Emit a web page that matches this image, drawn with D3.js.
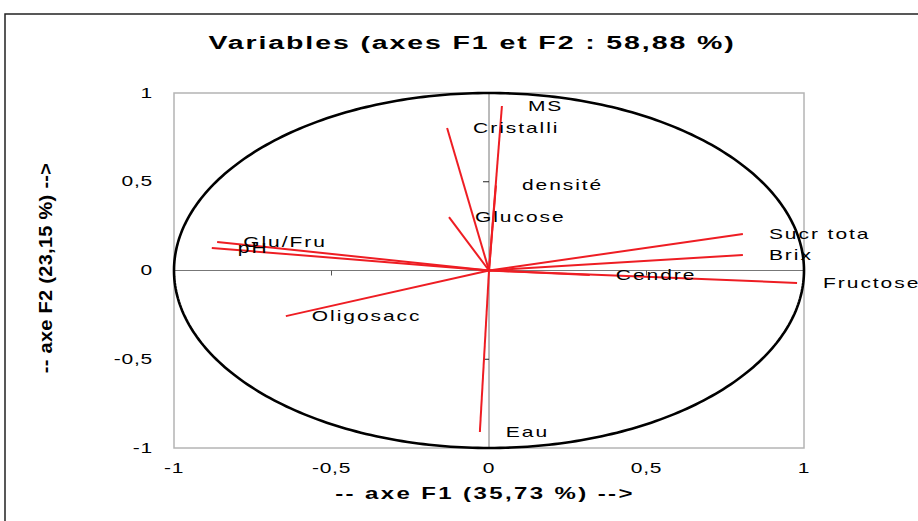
<!DOCTYPE html>
<html>
<head>
<meta charset="utf-8">
<script src="https://cdn.jsdelivr.net/npm/d3@7"></script>
<style>
  body { margin: 0; background: #fff; }
  svg { display: block; font-family: "Liberation Sans", Arial, sans-serif; }
</style>
</head>
<body>
<svg width="918" height="521"></svg>
<script>
// variables and their loadings on F1 / F2
const names = ["MS", "Cristalli", "densité", "Glucose", "Sucr tota", "Brix",
  "Fructose", "Cendre", "Glu/Fru", "pH", "Oligosacc", "Eau"];
const f1 = [0.041, -0.133, 0.022, -0.127, 0.806, 0.806, 0.978, 0.32, -0.863, -0.88, -0.645, -0.029];
const f2 = [0.927, 0.803, 0.48, 0.301, 0.206, 0.087, -0.07, -0.025, 0.161, 0.127, -0.257, -0.91];

const xTicks = [-1, -0.5, 0, 0.5, 1];
const yTicks = [-1, -0.5, 0, 0.5, 1];
const fmt = v => String(v).replace(".", ",");

const svg = d3.select("svg");

const x = d3.scaleLinear().domain([-1, 1]).range([174, 804]);
const y = d3.scaleLinear().domain([-1, 1]).range([448, 93]);

// outer frame
svg.append("rect")
  .attr("x", 5).attr("y", 14)
  .attr("width", 940).attr("height", 540)
  .attr("fill", "none").attr("stroke", "#222").attr("stroke-width", 1.5);

// plot area
svg.append("rect")
  .attr("x", x(-1)).attr("y", y(1))
  .attr("width", x(1) - x(-1)).attr("height", y(-1) - y(1))
  .attr("fill", "none").attr("stroke", "#b4b4b4").attr("stroke-width", 1.5);

// axes through origin
svg.append("line")
  .attr("x1", x(-1)).attr("x2", x(1)).attr("y1", y(0)).attr("y2", y(0))
  .attr("stroke", "#777").attr("stroke-width", 1);
svg.append("line")
  .attr("x1", x(0)).attr("x2", x(0)).attr("y1", y(1)).attr("y2", y(-1))
  .attr("stroke", "#777").attr("stroke-width", 1);

// small ticks on the centre lines
svg.selectAll(".xt").data([-0.5, 0.5]).enter().append("line")
  .attr("x1", d => x(d)).attr("x2", d => x(d))
  .attr("y1", y(0)).attr("y2", y(0) + 5)
  .attr("stroke", "#555");
svg.selectAll(".yt").data([-0.5, 0.5]).enter().append("line")
  .attr("x1", x(0) - 6).attr("x2", x(0))
  .attr("y1", d => y(d)).attr("y2", d => y(d))
  .attr("stroke", "#222");

// correlation circle
const circ = d3.range(0, 361, 1).map(a => [Math.cos(a * Math.PI / 180), Math.sin(a * Math.PI / 180)]);
svg.append("path")
  .datum(circ)
  .attr("d", d3.line().x(d => x(d[0])).y(d => y(d[1])))
  .attr("fill", "none").attr("stroke", "#000").attr("stroke-width", 2.6);

// stretched text helper (the original is widened horizontally)
function label(px, py, txt, opts) {
  const g = svg.append("g")
    .attr("transform", `translate(${px},${py}) rotate(${opts.rot || 0}) scale(${opts.k || 1.5},1)`);
  return g.append("text")
    .attr("text-anchor", opts.anchor || "start")
    .attr("dominant-baseline", "central")
    .style("font-size", opts.size + "px")
    .style("font-weight", opts.bold ? "bold" : "normal")
    .style("letter-spacing", (opts.ls || 0) + "px")
    .attr("fill", "#000")
    .text(txt);
}

// tick labels
xTicks.forEach(t => label(x(t), 468, fmt(t), { size: 14, anchor: "middle", ls: 0.5 }));
yTicks.forEach(t => label(153, y(t), fmt(t), { size: 14, anchor: "end", ls: 0.5 }));

// vectors
const vec = d3.range(names.length);
svg.selectAll(".vec").data(vec).enter().append("line")
  .attr("class", "vec")
  .attr("x1", x(0)).attr("y1", y(0))
  .attr("x2", i => x(f1[i])).attr("y2", i => y(f2[i]))
  .attr("stroke", "#ee1d23").attr("stroke-width", 2);

vec.forEach(i => label(x(f1[i]) + 26, y(f2[i]), names[i], { size: 14, ls: 1.3 }));

// titles
label(472, 42, "Variables (axes F1 et F2 : 58,88 %)", { size: 19, bold: true, anchor: "middle", ls: 1.26 });
label(485, 494, "-- axe F1 (35,73 %) -->", { size: 16, bold: true, anchor: "middle", ls: 1.6 });
label(45, 268, "-- axe F2 (23,15 %) -->", { size: 19, bold: true, anchor: "middle", rot: -90, k: 1.05, ls: 0.3 });
</script>
</body>
</html>
